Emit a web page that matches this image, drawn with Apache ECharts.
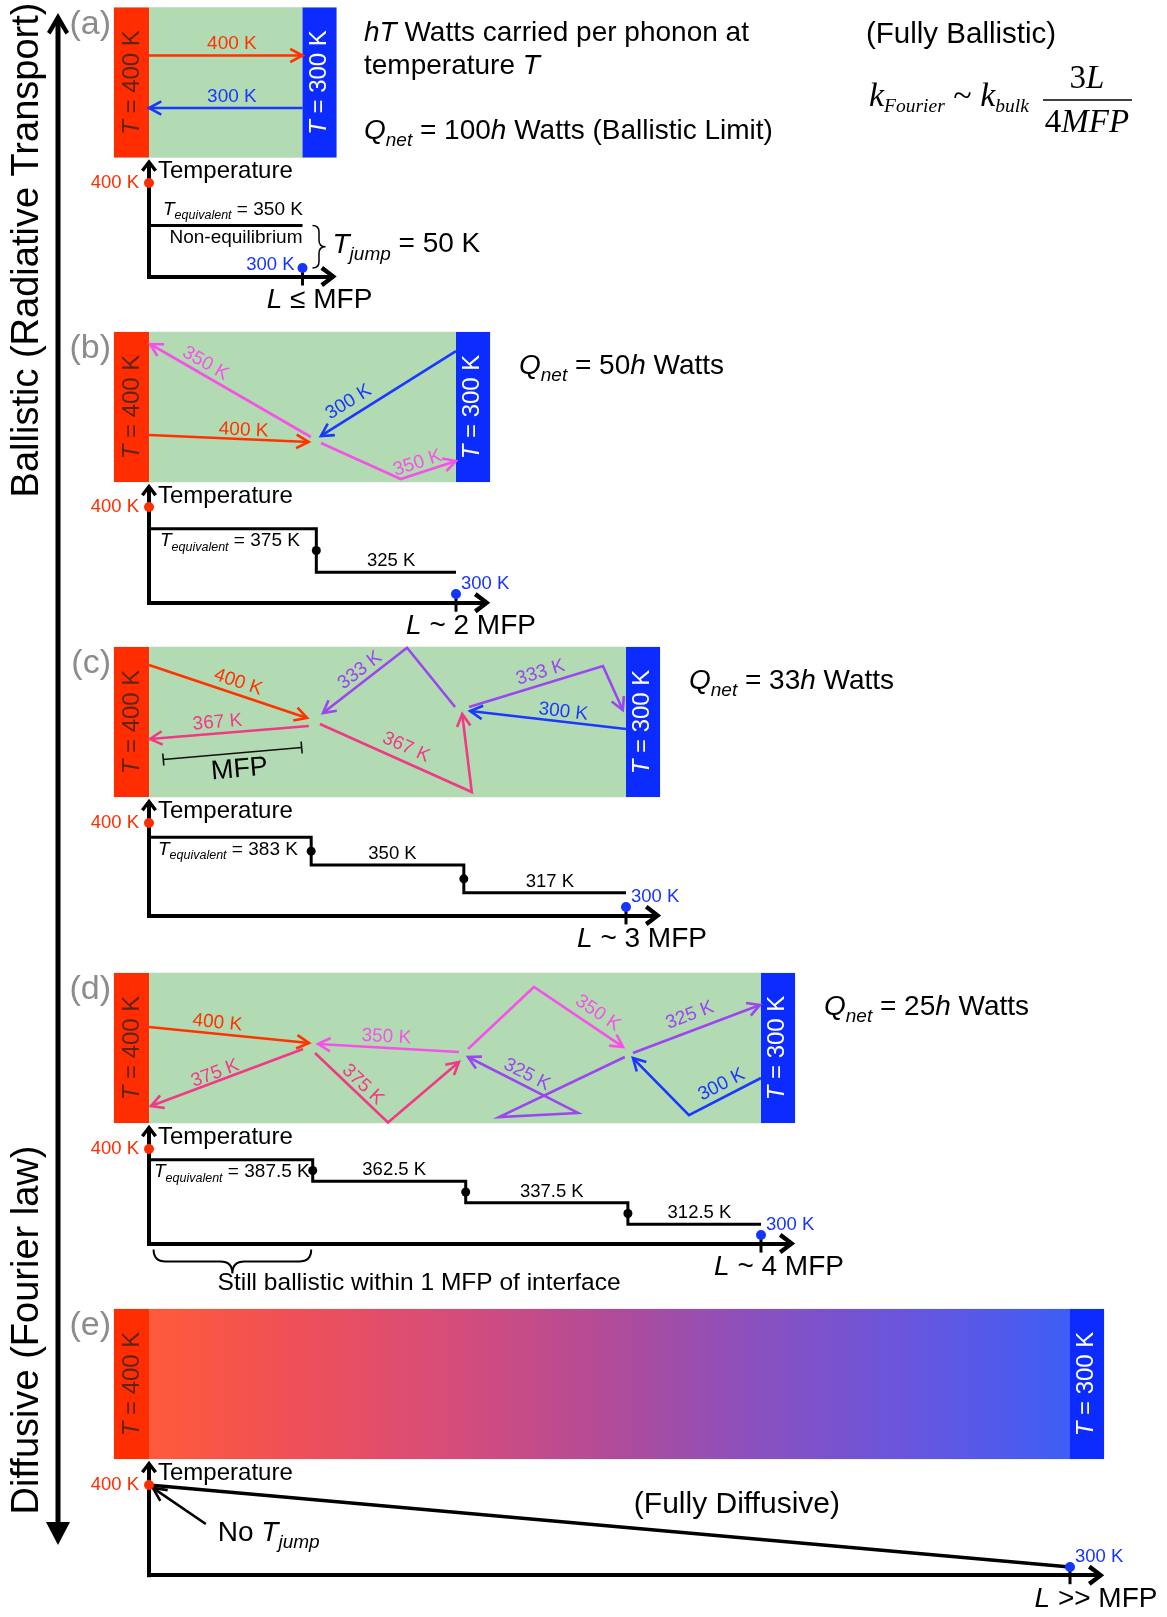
<!DOCTYPE html>
<html lang="en">
<head>
<meta charset="utf-8">
<title>Ballistic to diffusive phonon transport</title>
<script src="https://cdn.jsdelivr.net/npm/echarts@6/dist/echarts.min.js"></script>
<style>
  html, body { margin: 0; padding: 0; background: #fff; }
  #chart { width: 1167px; height: 1617px; }
</style>
</head>
<body>
<div id="chart"></div>
<script>
// ---------------- values ----------------
const PANEL_TAGS = ['(a)', '(b)', '(c)', '(d)', '(e)'];
const HOT_K = 400;
const COLD_K = 300;
const SLAB_LENGTH_MFP = [1, 2, 3, 4, 6];
const LENGTH_RELATIONS = ['≤ MFP', '~ 2 MFP', '~ 3 MFP', '~ 4 MFP', '>> MFP'];
const Q_NET_H = [100, 50, 33, 25];

// equivalent temperature between scattering planes: plane positions (MFP) and level (K)
const STEP_EDGES_A = [0, 1];
const STEP_TEMPS_A = [350];
const STEP_EDGES_B = [0, 1.09, 2];
const STEP_TEMPS_B = [375, 325];
const STEP_EDGES_C = [0, 1.02, 1.98, 3];
const STEP_TEMPS_C = [383, 350, 317];
const STEP_EDGES_D = [0, 1.07, 2.07, 3.13, 4];
const STEP_TEMPS_D = [387.5, 362.5, 337.5, 312.5];
// fully diffusive: linear Fourier profile
const DIFFUSIVE_X_MFP = [0, 6];
const DIFFUSIVE_T_K = [400, 300];

// phonon trajectories: [temperature K, [[x in MFP, depth 0..1 from top], ...]]
const PHONONS_A = [
  [400, [[0, 0.32], [1, 0.32]]],
  [300, [[1, 0.67], [0, 0.67]]]
];
const PHONONS_B = [
  [400, [[0, 0.687], [1.04, 0.733]]],
  [350, [[1.055, 0.70], [0.007, 0.08]]],
  [300, [[2.0, 0.127], [1.12, 0.693]]],
  [350, [[1.12, 0.74], [1.64, 0.98], [2.0, 0.86]]]
];
const PHONONS_C = [
  [400, [[0, 0.12], [0.994, 0.473]]],
  [367, [[1.006, 0.527], [0.006, 0.613]]],
  [367, [[1.075, 0.513], [2.03, 0.967], [1.97, 0.447]]],
  [333, [[1.925, 0.40], [1.623, 0.005], [1.094, 0.44]]],
  [333, [[2.013, 0.40], [2.855, 0.127], [2.98, 0.42]]],
  [300, [[3.0, 0.547], [2.02, 0.427]]]
];
const PHONONS_D = [
  [400, [[0, 0.36], [1.046, 0.467]]],
  [375, [[1.007, 0.507], [0.013, 0.887]]],
  [375, [[1.085, 0.533], [1.562, 0.997], [2.026, 0.593]]],
  [350, [[2.026, 0.527], [1.105, 0.473]]],
  [350, [[2.085, 0.507], [2.516, 0.093], [3.098, 0.493]]],
  [325, [[3.11, 0.56], [2.288, 0.96], [2.804, 0.933], [2.085, 0.56]]],
  [325, [[3.163, 0.533], [3.993, 0.213]]],
  [300, [[4.0, 0.70], [3.529, 0.947], [3.163, 0.567]]]
];
// scale bar of one mean free path drawn inside slab (c)
const MFP_BAR_C = [[0.09, 0.75], [0.96, 0.67]];

// ---------------- layout & style ----------------
const FONT = '"Liberation Sans", Arial, Helvetica, sans-serif';
const SERIF = '"Liberation Serif", "Times New Roman", serif';
const X0 = 149;          // hot interface, px
const BAR_W = 35;        // reservoir bar width, px
const SLAB_H = 150;
const T_MIN = 290;
const LAYOUT = [
  { slabTop: 7.5,  pxPerMfp: 153.5, t400: 183,  pxPerK: 0.85, lenDx: 17 },
  { slabTop: 332,  pxPerMfp: 153.5, t400: 507,  pxPerK: 0.87, lenDx: 15 },
  { slabTop: 647,  pxPerMfp: 159,   t400: 823,  pxPerK: 0.84, lenDx: 16 },
  { slabTop: 973,  pxPerMfp: 153,   t400: 1149, pxPerK: 0.86, lenDx: 18 },
  { slabTop: 1309, pxPerMfp: 153.5, t400: 1485, pxPerK: 0.82, lenDx: 26 }
];
const STEP_EDGES = [STEP_EDGES_A, STEP_EDGES_B, STEP_EDGES_C, STEP_EDGES_D];
const STEP_TEMPS = [STEP_TEMPS_A, STEP_TEMPS_B, STEP_TEMPS_C, STEP_TEMPS_D];
const PHONONS = [PHONONS_A, PHONONS_B, PHONONS_C, PHONONS_D];
// label placement along trajectories: [segment, fraction along it, offset px]
const LABEL_SPOTS = [
  [[0, 0.54, 12], [0, 0.46, 11]],
  [[0, 0.59, 9], [0, 0.69, 11], [0, 0.74, 14], [1, 0.36, 10]],
  [[0, 0.54, 12], [0, 0.57, 11], [0, 0.53, 14], [1, 0.48, 11], [0, 0.56, 12], [0, 0.41, 10]],
  [[0, 0.42, 11], [0, 0.56, 8], [0, 0.56, 10], [0, 0.52, 11], [1, 0.63, 14], [2, 0.51, 11], [0, 0.49, 15], [0, 0.47, 12]]
];
const TEQ_DX = [14, 11, 9, 5];

const C_HOT = '#ff2d00';
const C_COLD = '#1634ff';
const C_GREEN = '#b3dbb3';
const C_RED_BAR = '#ff2d00';
const C_BLUE_BAR = '#0c2cff';
const C_TAG = '#8c8c8c';
const DIFFUSE_STOPS = [
  { offset: 0, color: '#ff5a3a' }, { offset: 0.16, color: '#ef5058' },
  { offset: 0.33, color: '#d64c7a' }, { offset: 0.49, color: '#b44b96' },
  { offset: 0.65, color: '#8c50bd' }, { offset: 0.82, color: '#6a55dc' },
  { offset: 1, color: '#3e5ef6' }
];
const CHEVRON = 'path://M0,13 L10,0 L20,13 L16.5,15.5 L10,6.5 L3.5,15.5 Z';

function tempColor(T) {
  if (T >= 395) return '#ff3300';
  if (T >= 360) return '#f03a86';
  if (T >= 345) return '#f552e8';
  if (T >= 320) return '#9b46f0';
  return '#1a38ff';
}

function richSet(size, sub, color, family, lh) {
  const fam = family || FONT;
  const lineH = lh || Math.round(size * 1.37);
  return {
    r: { fontSize: size, fontFamily: fam, fill: color, lineHeight: lineH },
    i: { fontSize: size, fontFamily: fam, fontStyle: 'italic', fill: color, lineHeight: lineH },
    s: { fontSize: sub, fontFamily: fam, fontStyle: 'italic', fill: color, lineHeight: sub, verticalAlign: 'bottom' }
  };
}
function txt(x, y, text, rich, align, extra) {
  return Object.assign({
    type: 'text', x: x, y: y,
    style: { text: text, rich: rich, align: align || 'left', verticalAlign: 'middle' }
  }, extra || {});
}
function arrowHead(a, b, len, spread) {
  const ang = Math.atan2(b[1] - a[1], b[0] - a[0]);
  return [
    [b[0] - len * Math.cos(ang - spread), b[1] - len * Math.sin(ang - spread)],
    b,
    [b[0] - len * Math.cos(ang + spread), b[1] - len * Math.sin(ang + spread)]
  ];
}
function vBracePath(x0, y1, y2, w) {
  const xm = x0 + w / 2, xp = x0 + w, yc = (y1 + y2) / 2, r = w / 2;
  return `M${x0},${y1} Q${xm},${y1} ${xm},${y1 + r} L${xm},${yc - r} Q${xm},${yc} ${xp},${yc} ` +
         `Q${xm},${yc} ${xm},${yc + r} L${xm},${y2 - r} Q${xm},${y2} ${x0},${y2}`;
}
function hBracePath(x1, x2, y0, d) {
  const ym = y0 + d / 2, yp = y0 + d, xc = (x1 + x2) / 2, r = d / 2;
  return `M${x1},${y0} Q${x1},${ym} ${x1 + r},${ym} L${xc - r},${ym} Q${xc},${ym} ${xc},${yp} ` +
         `Q${xc},${ym} ${xc + r},${ym} L${x2 - r},${ym} Q${x2},${ym} ${x2},${y0}`;
}

// ---------------- renderers ----------------
function renderSlab(panel) {
  return function (params, api) {
    const L = api.value(0);
    const tl = api.coord([0, 0]);
    const br = api.coord([L, 1]);
    const x0 = tl[0], y0 = tl[1], x1 = br[0], h = br[1] - tl[1];
    const fillMid = panel === 4 ? new echarts.graphic.LinearGradient(0, 0, 1, 0, DIFFUSE_STOPS) : C_GREEN;
    const barText = (T, color) => ({
      text: `{i|T}{r| = ${T} K}`, rich: richSet(24, 16, color), align: 'center', verticalAlign: 'middle'
    });
    return {
      type: 'group',
      children: [
        { type: 'rect', shape: { x: x0 - BAR_W, y: y0, width: x1 - x0 + 2 * BAR_W - 1, height: h },
          style: { fill: 'none', stroke: '#dfe6df', lineWidth: 1 } },
        { type: 'rect', shape: { x: x0, y: y0, width: x1 - x0, height: h }, style: { fill: fillMid } },
        { type: 'rect', shape: { x: x0 - BAR_W, y: y0, width: BAR_W, height: h }, style: { fill: C_RED_BAR } },
        { type: 'rect', shape: { x: x1, y: y0, width: BAR_W - 1, height: h }, style: { fill: C_BLUE_BAR } },
        { type: 'text', x: x0 - BAR_W / 2 + 1, y: y0 + h / 2, rotation: Math.PI / 2, style: barText(HOT_K, '#5e2418') },
        { type: 'text', x: x1 + BAR_W / 2 - 1, y: y0 + h / 2, rotation: Math.PI / 2, style: barText(COLD_K, '#ffffff') }
      ]
    };
  };
}

function renderPhonon(panel) {
  const paths = PHONONS[panel], spots = LABEL_SPOTS[panel];
  return function (params, api) {
    const T = api.value(2);
    const pts = paths[params.dataIndex][1].map(p => api.coord(p));
    const color = tempColor(T);
    const line = { stroke: color, lineWidth: 2.6, fill: 'none', lineJoin: 'miter' };
    const children = [
      { type: 'polyline', shape: { points: pts }, style: line },
      { type: 'polyline', shape: { points: arrowHead(pts[pts.length - 2], pts[pts.length - 1], 14, 0.5) }, style: line }
    ];
    const sp = spots[params.dataIndex];
    const s0 = pts[sp[0]], s1 = pts[sp[0] + 1];
    const dx = s1[0] - s0[0], dy = s1[1] - s0[1], d = Math.hypot(dx, dy);
    let nx = dy / d, ny = -dx / d;
    if (ny > 0 || (ny === 0 && nx > 0)) { nx = -nx; ny = -ny; }
    let th = Math.atan2(dy, dx);
    if (th > Math.PI / 2) th -= Math.PI;
    if (th < -Math.PI / 2) th += Math.PI;
    children.push({
      type: 'text',
      x: s0[0] + dx * sp[1] + nx * sp[2], y: s0[1] + dy * sp[1] + ny * sp[2], rotation: -th,
      style: { text: `${T} K`, fontSize: 19, fontFamily: FONT, fill: color, align: 'center', verticalAlign: 'middle' }
    });
    return { type: 'group', children: children };
  };
}

function renderMfpBar(params, api) {
  const a = api.coord(MFP_BAR_C[0]), b = api.coord(MFP_BAR_C[1]);
  const dx = b[0] - a[0], dy = b[1] - a[1], d = Math.hypot(dx, dy);
  const nx = -dy / d * 6, ny = dx / d * 6;
  const st = { stroke: '#111', lineWidth: 1.6 };
  const th = Math.atan2(dy, dx);
  return {
    type: 'group',
    children: [
      { type: 'line', shape: { x1: a[0], y1: a[1], x2: b[0], y2: b[1] }, style: st },
      { type: 'line', shape: { x1: a[0] - nx, y1: a[1] - ny, x2: a[0] + nx, y2: a[1] + ny }, style: st },
      { type: 'line', shape: { x1: b[0] - nx, y1: b[1] - ny, x2: b[0] + nx, y2: b[1] + ny }, style: st },
      { type: 'text', x: (a[0] + b[0]) / 2 + 7, y: (a[1] + b[1]) / 2 + 16, rotation: -th,
        style: { text: 'MFP', fontSize: 27, fontFamily: FONT, fill: '#000', align: 'center', verticalAlign: 'middle' } }
    ]
  };
}

function renderProfile(panel) {
  return function (params, api) {
    const L = SLAB_LENGTH_MFP[panel];
    const c = p => api.coord(p);
    const axisY = c([0, T_MIN])[1];
    const ch = [];
    const black = { stroke: '#000', lineWidth: 3, fill: 'none' };
    if (panel < 4) {
      const edges = STEP_EDGES[panel], temps = STEP_TEMPS[panel];
      const pts = [];
      temps.forEach((T, k) => { pts.push(c([edges[k], T])); pts.push(c([edges[k + 1], T])); });
      ch.push({ type: 'polyline', shape: { points: pts }, style: black });
      for (let k = 1; k < temps.length; k++) {
        const p = c([edges[k], (temps[k - 1] + temps[k]) / 2]);
        ch.push({ type: 'circle', shape: { cx: p[0], cy: p[1], r: 4.5 }, style: { fill: '#000' } });
      }
      temps.forEach((T, k) => {
        if (k === 0) {
          const p = c([edges[0], T]);
          ch.push(txt(p[0] + TEQ_DX[panel], p[1] + (panel === 0 ? -16 : 12),
            `{i|T}{s|equivalent}{r| = ${T} K}`, richSet(19, 12.5, '#000')));
        } else {
          const p = c([(edges[k] + edges[k + 1]) / 2, T]);
          ch.push({ type: 'text', x: p[0] + 5, y: p[1] - 11,
            style: { text: `${T} K`, fontSize: 18.5, fontFamily: FONT, fill: '#000', align: 'center', verticalAlign: 'middle' } });
        }
      });
      if (panel === 0) {
        const teq = temps[0];
        const pEnd = c([edges[1], teq]);
        ch.push({ type: 'text', x: pEnd[0], y: pEnd[1] + 12,
          style: { text: 'Non-equilibrium', fontSize: 19, fontFamily: FONT, fill: '#000', align: 'right', verticalAlign: 'middle' } });
        const yTop = pEnd[1], yBot = c([L, COLD_K])[1];
        const bx = c([L, COLD_K])[0] + 10;
        ch.push({ type: 'path', shape: { pathData: vBracePath(bx, yTop, yBot, 13) }, style: { stroke: '#000', lineWidth: 1.5, fill: 'none' } });
        ch.push(txt(bx + 20, (yTop + yBot) / 2 - 2, `{i|T}{s|jump}{r| = ${teq - COLD_K} K}`, richSet(28, 19, '#000')));
      }
      if (panel === 3) {
        const a = c([0.03, T_MIN]), b = c([1.06, T_MIN]);
        ch.push({ type: 'path', shape: { pathData: hBracePath(a[0], b[0], axisY + 6, 24) }, style: { stroke: '#000', lineWidth: 2, fill: 'none' } });
        ch.push({ type: 'text', x: a[0] + 64, y: axisY + 40,
          style: { text: 'Still ballistic within 1 MFP of interface', fontSize: 24.5, fontFamily: FONT, fill: '#000', align: 'left', verticalAlign: 'middle' } });
      }
    } else {
      const pts = DIFFUSIVE_X_MFP.map((x, k) => c([x, DIFFUSIVE_T_K[k]]));
      ch.push({ type: 'polyline', shape: { points: pts }, style: { stroke: '#000', lineWidth: 3.5, fill: 'none' } });
      const from = c([0.37, 352.4]), to = c([0.025, 396.5]);
      const st = { stroke: '#000', lineWidth: 2.6, fill: 'none' };
      ch.push({ type: 'polyline', shape: { points: [from, to] }, style: st });
      ch.push({ type: 'polyline', shape: { points: arrowHead(from, to, 15, 0.45) }, style: st });
      ch.push(txt(from[0] + 12, from[1] + 9, '{r|No }{i|T}{s|jump}', richSet(28, 19, '#000')));
      const mid = c([3.83, 375.5]);
      ch.push({ type: 'text', x: mid[0], y: mid[1],
        style: { text: '(Fully Diffusive)', fontSize: 30, fontFamily: FONT, fill: '#000', align: 'center', verticalAlign: 'middle' } });
    }
    const hot = c([0, HOT_K]), cold = c([L, COLD_K]);
    ch.push({ type: 'line', shape: { x1: cold[0], y1: cold[1], x2: cold[0], y2: axisY + 9 }, style: { stroke: '#000', lineWidth: 3 } });
    ch.push({ type: 'circle', shape: { cx: hot[0], cy: hot[1], r: 5 }, style: { fill: C_HOT } });
    ch.push({ type: 'circle', shape: { cx: cold[0], cy: cold[1], r: 5 }, style: { fill: C_COLD } });
    ch.push({ type: 'text', x: hot[0] - 10, y: hot[1],
      style: { text: `${HOT_K} K`, fontSize: 18.5, fontFamily: FONT, fill: C_HOT, align: 'right', verticalAlign: 'middle' } });
    if (panel === 0) {
      ch.push({ type: 'text', x: cold[0] - 8, y: cold[1] - 3,
        style: { text: `${COLD_K} K`, fontSize: 18.5, fontFamily: FONT, fill: C_COLD, align: 'right', verticalAlign: 'middle' } });
    } else {
      ch.push({ type: 'text', x: cold[0] + 5, y: cold[1] - 10,
        style: { text: `${COLD_K} K`, fontSize: 18.5, fontFamily: FONT, fill: C_COLD, align: 'left', verticalAlign: 'middle' } });
    }
    return { type: 'group', children: ch };
  };
}

// ---------------- assemble ----------------
const grids = [], xAxes = [], yAxes = [], series = [], graphics = [];
const hidden = { show: false };

LAYOUT.forEach((lay, i) => {
  const L = SLAB_LENGTH_MFP[i];
  const slabBottom = lay.slabTop + SLAB_H;
  const gs = grids.length;
  grids.push({ left: X0, top: lay.slabTop, width: L * lay.pxPerMfp, height: SLAB_H });
  xAxes.push({ gridIndex: gs, type: 'value', min: 0, max: L, show: false });
  yAxes.push({ gridIndex: gs, type: 'value', min: 0, max: 1, inverse: true, show: false });

  const gp = grids.length;
  const profTop = slabBottom + 8;
  const tMax = HOT_K + (lay.t400 - profTop) / lay.pxPerK;
  const xMax = L + 0.17;
  grids.push({ left: X0, top: profTop, width: xMax * lay.pxPerMfp, height: (tMax - T_MIN) * lay.pxPerK });
  const axisCommon = {
    type: 'value', axisTick: hidden, axisLabel: hidden, splitLine: hidden
  };
  xAxes.push(Object.assign({ gridIndex: gp, min: 0, max: xMax, position: 'bottom',
    axisLine: { show: true, onZero: false, symbol: ['none', CHEVRON], symbolSize: [21, 19],
      lineStyle: { color: '#000', width: 4, cap: 'square' } } }, axisCommon));
  yAxes.push(Object.assign({ gridIndex: gp, min: T_MIN, max: tMax, position: 'left',
    axisLine: { show: true, onZero: false, symbol: ['none', CHEVRON], symbolSize: [16, 14],
      lineStyle: { color: '#000', width: 4, cap: 'square' } } }, axisCommon));

  series.push({ type: 'custom', name: 'slab ' + PANEL_TAGS[i], xAxisIndex: gs, yAxisIndex: gs, z: 1,
    renderItem: renderSlab(i), data: [[L, 0.5]] });
  if (i < 4) {
    series.push({ type: 'custom', name: 'phonons ' + PANEL_TAGS[i], xAxisIndex: gs, yAxisIndex: gs, z: 3,
      renderItem: renderPhonon(i), data: PHONONS[i].map(p => [p[1][0][0], p[1][0][1], p[0]]) });
  }
  if (i === 2) {
    series.push({ type: 'custom', name: 'mfp scale', xAxisIndex: gs, yAxisIndex: gs, z: 3,
      renderItem: renderMfpBar, data: [MFP_BAR_C[0]] });
  }
  series.push({ type: 'custom', name: 'profile ' + PANEL_TAGS[i], xAxisIndex: gp, yAxisIndex: gp, z: 3,
    renderItem: renderProfile(i), data: [[0, HOT_K]] });

  // panel annotations
  graphics.push({ type: 'text', x: 111, y: lay.slabTop + 17,
    style: { text: PANEL_TAGS[i], fontSize: 34, fontFamily: FONT, fill: C_TAG, align: 'right', verticalAlign: 'middle' } });
  graphics.push({ type: 'text', x: X0 + 9, y: slabBottom + 14,
    style: { text: 'Temperature', fontSize: 24, fontFamily: FONT, fill: '#000', align: 'left', verticalAlign: 'middle' } });
  const axisY = lay.t400 + (HOT_K - T_MIN) * lay.pxPerK;
  graphics.push(txt(X0 + L * lay.pxPerMfp + lay.lenDx, axisY + 24,
    `{i|L}{r| ${LENGTH_RELATIONS[i]}}`, richSet(28, 19, '#000'), 'center'));
  if (i >= 1 && i <= 3) {
    graphics.push(txt(X0 + L * lay.pxPerMfp + BAR_W + 28, lay.slabTop + 34,
      `{i|Q}{s|net}{r| = ${Q_NET_H[i]}}{i|h}{r| Watts}`, richSet(28, 19, '#000')));
  }
});

// header text beside panel (a)
graphics.push(txt(364, 33, '{i|hT}{r| Watts carried per phonon at}', richSet(28, 19, '#000')));
graphics.push(txt(364, 66, '{r|temperature }{i|T}', richSet(28, 19, '#000')));
graphics.push(txt(364, 131, `{i|Q}{s|net}{r| = ${Q_NET_H[0]}}{i|h}{r| Watts (Ballistic Limit)}`, richSet(28, 19, '#000')));
graphics.push({ type: 'text', x: 866, y: 35,
  style: { text: '(Fully Ballistic)', fontSize: 29.5, fontFamily: FONT, fill: '#000', align: 'left', verticalAlign: 'middle' } });
// k_Fourier ~ k_bulk 3L / 4MFP
graphics.push(txt(869, 97, '{k|k}{ks|Fourier}{t| ~ }{k|k}{ks|bulk}', {
  k: { fontSize: 34, fontFamily: SERIF, fontStyle: 'italic', fill: '#000', lineHeight: 40 },
  t: { fontSize: 34, fontFamily: SERIF, fill: '#000', lineHeight: 40 },
  ks: { fontSize: 19.5, fontFamily: SERIF, fontStyle: 'italic', fill: '#000', lineHeight: 19, verticalAlign: 'bottom' }
}));
const fracRich = {
  n: { fontSize: 33, fontFamily: SERIF, fill: '#000' },
  ni: { fontSize: 33, fontFamily: SERIF, fontStyle: 'italic', fill: '#000' }
};
graphics.push(txt(1087, 79, '{n|3}{ni|L}', fracRich, 'center'));
graphics.push(txt(1087, 123, '{n|4}{ni|MFP}', fracRich, 'center'));
graphics.push({ type: 'line', shape: { x1: 1043, y1: 100, x2: 1132, y2: 100 }, style: { stroke: '#000', lineWidth: 1.6 } });

// regime arrow on the left
graphics.push({ type: 'line', shape: { x1: 58, y1: 18, x2: 58, y2: 1528 }, style: { stroke: '#000', lineWidth: 5 } });
graphics.push({ type: 'polygon', shape: { points: [[47, 32], [58, 13], [69, 32], [65.5, 34.5], [58, 22], [50.5, 34.5]] }, style: { fill: '#000' } });
graphics.push({ type: 'polygon', shape: { points: [[46, 1522], [70, 1522], [58, 1545]] }, style: { fill: '#000' } });
graphics.push({ type: 'text', x: 28, y: 250, rotation: Math.PI / 2,
  style: { text: 'Ballistic (Radiative Transport)', fontSize: 38, fontFamily: FONT, fill: '#000', align: 'center', verticalAlign: 'middle' } });
graphics.push({ type: 'text', x: 28, y: 1330, rotation: Math.PI / 2,
  style: { text: 'Diffusive (Fourier law)', fontSize: 38, fontFamily: FONT, fill: '#000', align: 'center', verticalAlign: 'middle' } });

const chart = echarts.init(document.getElementById('chart'), null, { renderer: 'canvas', width: 1167, height: 1617 });
chart.setOption({
  animation: false,
  backgroundColor: '#ffffff',
  grid: grids,
  xAxis: xAxes,
  yAxis: yAxes,
  series: series,
  graphic: { elements: graphics }
});
</script>
</body>
</html>
